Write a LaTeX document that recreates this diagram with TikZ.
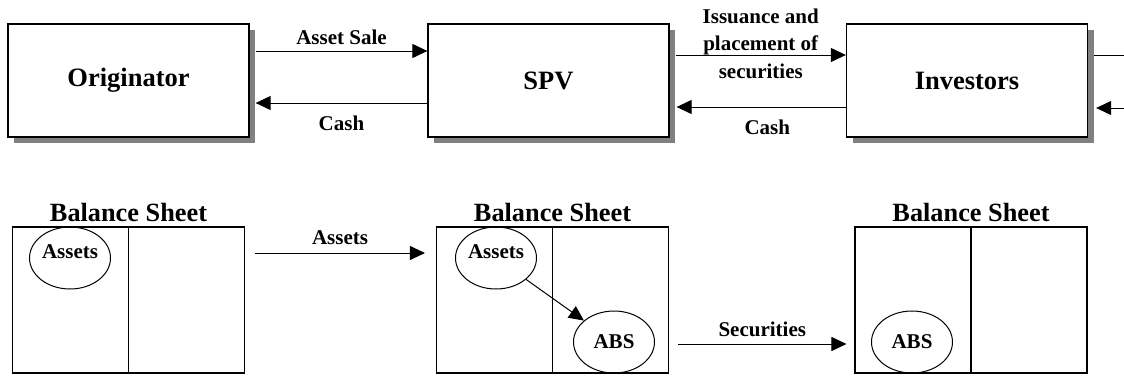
\documentclass[tikz,border=0pt]{standalone}
\usepackage{fontspec}
\setmainfont{Liberation Serif}
\usetikzlibrary{shapes.geometric,arrows.meta,positioning,shadows,calc}

\begin{document}
\begin{tikzpicture}[
  x=1pt, y=-1pt,
  party/.style ={draw,line width=1.3pt,fill=white,minimum width=241pt,
                 minimum height=113pt,font=\fontsize{26.5}{30}\selectfont\bfseries,
                 drop shadow={shadow xshift=6pt,shadow yshift=-6pt,fill=gray,opacity=1}},
  sheet/.style ={draw,line width=1.1pt,minimum width=232pt,minimum height=146pt,inner sep=0pt},
  title/.style ={font=\fontsize{26.3}{30}\selectfont\bfseries,inner sep=0pt,anchor=base},
  item/.style  ={draw,ellipse,line width=1pt,minimum width=81pt,minimum height=62pt,
                 inner sep=0pt,font=\fontsize{21}{25}\selectfont\bfseries},
  lbl/.style   ={font=\fontsize{21}{27.5}\selectfont\bfseries,inner sep=2pt},
  flow/.style  ={->,line width=1pt},
  >={Triangle[length=15pt,width=14pt]}]

\useasboundingbox (0,0) rectangle (1124,375);

% ---------- Row 1 : parties ----------
\node[party] (orig) at (128.5,80.5) {Originator};
\node[party] (spv)  at (548.5,80.5) {SPV};
\node[party] (inv)  at (967,80.5)   {Investors};

\coordinate (out1) at (1124,55);
\coordinate (out2) at (1124,108);

\draw[flow] ([xshift=6pt,yshift=29.5pt]orig.east) -- ([yshift=29.5pt]spv.west)
  node[lbl,midway,above=4pt] (sale) {Asset Sale};
\draw[flow] ([yshift=-22.5pt]spv.west) -- ([xshift=6pt,yshift=-22.5pt]orig.east)
  node[lbl,midway,below=10pt] (cash1) {Cash};
\draw[flow] ([xshift=6pt,yshift=25.5pt]spv.east) -- ([yshift=25.5pt]inv.west)
  node[lbl,midway,align=center,yshift=11.6pt] (issue) {Issuance and\\placement of\\securities};
\draw[flow] ([yshift=-26.5pt]inv.west) -- ([xshift=7pt,yshift=-26.5pt]spv.east)
  node[lbl,midway,below=10pt,xshift=6pt] (cash2) {Cash};
\draw[line width=1pt] ([xshift=6pt,yshift=25.5pt]inv.east) -- (out1);
\draw[flow] (out2) -- ([xshift=8pt,yshift=-27.5pt]inv.east);

% ---------- Row 2 : balance sheets ----------
\node[sheet] (bs1) at (128.5,300) {};
\node[sheet] (bs2) at (552.5,300) {};
\node[sheet] (bs3) at (971,300)   {};
\foreach \s in {bs1,bs2,bs3}{
  \draw[line width=1.1pt] (\s.north) -- (\s.south);
  \node[title] at ([yshift=5pt]\s.north) {Balance Sheet};
}

\node[item,text depth=12pt] (as1)  at (70,258)  {Assets};
\node[item,text depth=12pt] (as2)  at (496,258) {Assets};
\node[item]                 (abs2) at (614,342) {ABS};
\node[item]                 (abs3) at (912,342) {ABS};

\draw[flow] (as2) -- (abs2);

\draw[flow] ([xshift=10pt,yshift=47pt]bs1.east) -- ([xshift=-11pt,yshift=47pt]bs2.west)
  node[lbl,midway,above=6pt] (move) {Assets};
\draw[flow] ([xshift=9pt,yshift=-44pt]bs2.east) -- ([xshift=-8pt,yshift=-44pt]bs3.west)
  node[lbl,midway,above=5pt] (sec) {Securities};

\end{tikzpicture}
\end{document}
